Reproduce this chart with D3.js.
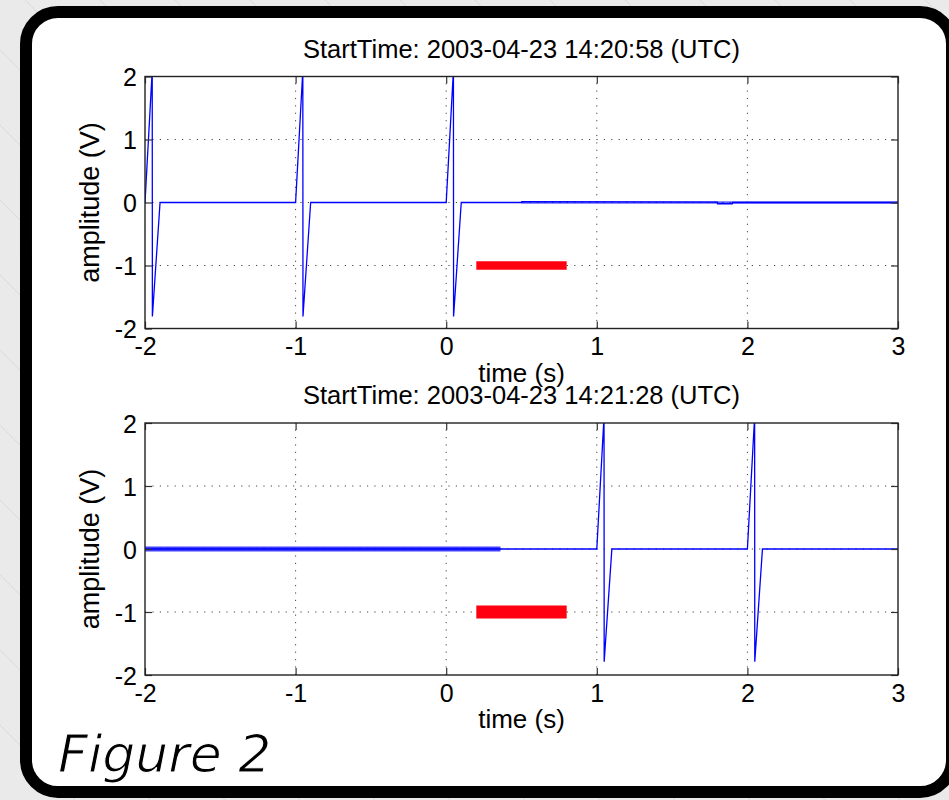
<!DOCTYPE html>
<html>
<head>
<meta charset="utf-8">
<script src="https://cdn.jsdelivr.net/npm/d3@7"></script>
<style>
  body { margin: 0; background: #eaeaea; }
  svg { display: block; }
  text { font-family: "Liberation Sans", Arial, Helvetica, sans-serif; fill: #000; }
</style>
</head>
<body>
<div id="chart"></div>
<script>
// --- data ---
const xTicks = [-2, -1, 0, 1, 2, 3];
const yTicks = [-2, -1, 0, 1, 2];
const xLabel = 'time (s)';
const yLabel = 'amplitude (V)';
const titles = [
    'StartTime: 2003-04-23 14:20:58 (UTC)',
    'StartTime: 2003-04-23 14:21:28 (UTC)'
];

// [time, amplitude] samples of the blue trace (peaks clip at the axes)
const topTrace = [
    [-2.000, 0], [-1.952, 2.10], [-1.951, -1.81], [-1.900, 0],
    [-1.000, 0], [-0.952, 2.10], [-0.951, -1.81], [-0.900, 0],
    [0.000, 0], [0.048, 2.10], [0.049, -1.81], [0.100, 0],
    [0.500, 0], [0.502, 0.015], [1.800, 0.005], [1.802, -0.02],
    [1.900, -0.02], [1.902, 0], [3.000, 0]
];
const bottomTrace = [
    [-2.000, 0], [0.360, 0],
    [1.000, 0], [1.048, 2.10], [1.049, -1.79], [1.100, 0],
    [2.000, 0], [2.048, 2.10], [2.049, -1.79], [2.100, 0],
    [3.000, 0]
];

// envelope of the fast jitter on the trace: [time, low, high]
const topNoise = [[0.50, -0.018, 0.018], [3.00, -0.018, 0.018]];
const bottomNoise = [[-2.00, -0.04, 0.04], [0.36, -0.04, 0.04]];

// red marker bars: [t start, t end, amplitude]
const topMarker = [0.2, 0.8, -1];
const bottomMarker = [0.2, 0.8, -1];

// --- layout ---
const W = 949, H = 800;
const plotLeft = 145, plotRight = 898;

const svg = d3.select('#chart').append('svg')
    .attr('width', W)
    .attr('height', H);

// background with faint diagonal hatching
svg.append('rect').attr('width', W).attr('height', H).attr('fill', '#eaeaea');
const hatch = svg.append('g').attr('stroke', '#dadada').attr('stroke-width', 1);
for (let k = -800; k < W; k += 75) {
    hatch.append('line')
        .attr('x1', k).attr('y1', 0)
        .attr('x2', k + H).attr('y2', H);
}

// rounded black frame
svg.append('rect')
    .attr('x', 26).attr('y', 12)
    .attr('width', 926).attr('height', 780)
    .attr('rx', 32).attr('ry', 32)
    .attr('fill', '#fff')
    .attr('stroke', '#000')
    .attr('stroke-width', 12);

const panels = [
    { title: titles[0], trace: topTrace, noise: topNoise, marker: topMarker,
      top: 76.5, bottom: 328.5, markerThick: 8.5, noiseOpacity: 0.6 },
    { title: titles[1], trace: bottomTrace, noise: bottomNoise, marker: bottomMarker,
      top: 423, bottom: 675, markerThick: 13, noiseOpacity: 0.75 }
];

panels.forEach((p, i) => drawPanel(p, i));

function drawPanel(p, i) {
    const x = d3.scaleLinear().domain([-2, 3]).range([plotLeft, plotRight]);
    const y = d3.scaleLinear().domain([-2, 2]).range([p.bottom, p.top]);
    const g = svg.append('g');

    g.append('clipPath').attr('id', `clip${i}`)
        .append('rect')
        .attr('x', plotLeft).attr('y', p.top)
        .attr('width', plotRight - plotLeft).attr('height', p.bottom - p.top);

    // dotted grid
    const grid = g.append('g')
        .attr('stroke', '#444')
        .attr('stroke-width', 1)
        .attr('stroke-dasharray', '1.2,6.2');
    grid.selectAll('.gx').data(xTicks.slice(1, -1)).join('line')
        .attr('x1', d => x(d)).attr('x2', d => x(d))
        .attr('y1', p.bottom).attr('y2', p.top);
    grid.selectAll('.gy').data(yTicks.slice(1, -1)).join('line')
        .attr('x1', plotLeft).attr('x2', plotRight)
        .attr('y1', d => y(d)).attr('y2', d => y(d));

    // red marker bar
    g.append('line')
        .attr('x1', x(p.marker[0])).attr('x2', x(p.marker[1]))
        .attr('y1', y(p.marker[2])).attr('y2', y(p.marker[2]))
        .attr('stroke', '#ff0010')
        .attr('stroke-width', p.markerThick);

    const data = g.append('g').attr('clip-path', `url(#clip${i})`);

    // jitter envelope
    data.append('path')
        .datum(p.noise)
        .attr('fill', '#0000ff')
        .attr('fill-opacity', p.noiseOpacity)
        .attr('d', d3.area().x(d => x(d[0])).y0(d => y(d[1])).y1(d => y(d[2])));

    // trace
    data.append('path')
        .datum(p.trace)
        .attr('fill', 'none')
        .attr('stroke', '#0000ff')
        .attr('stroke-width', 1.3)
        .attr('stroke-linejoin', 'miter')
        .attr('d', d3.line().x(d => x(d[0])).y(d => y(d[1])));

    // axes with inward ticks (matlab style)
    const tickLen = 7;
    const ax = g.append('g').attr('transform', `translate(0,${p.bottom})`)
        .call(d3.axisBottom(x).tickValues(xTicks).tickSizeInner(-tickLen).tickSizeOuter(0)
            .tickPadding(9).tickFormat(d3.format('d')));
    const ay = g.append('g').attr('transform', `translate(${plotLeft},0)`)
        .call(d3.axisLeft(y).tickValues(yTicks).tickSizeInner(-tickLen).tickSizeOuter(0)
            .tickPadding(8).tickFormat(d3.format('d')));
    const at = g.append('g').attr('transform', `translate(0,${p.top})`)
        .call(d3.axisTop(x).tickValues(xTicks).tickSizeInner(-tickLen).tickSizeOuter(0)
            .tickFormat(''));
    const ar = g.append('g').attr('transform', `translate(${plotRight},0)`)
        .call(d3.axisRight(y).tickValues(yTicks).tickSizeInner(-tickLen).tickSizeOuter(0)
            .tickFormat(''));

    [ax, ay, at, ar].forEach(a => {
        a.select('.domain').remove();
        a.selectAll('line').attr('stroke', '#333').attr('stroke-width', 1.2);
        a.selectAll('text')
            .style('font-family', '"Liberation Sans", Arial, sans-serif')
            .style('font-size', '25px')
            .attr('fill', '#000');
    });
    // plain hyphen for negatives, like the original
    ax.selectAll('text').text(d => String(d));
    ay.selectAll('text').text(d => String(d)).attr('dy', '0.36em');

    // axes box
    g.append('rect')
        .attr('x', plotLeft).attr('y', p.top)
        .attr('width', plotRight - plotLeft).attr('height', p.bottom - p.top)
        .attr('fill', 'none')
        .attr('stroke', '#222')
        .attr('stroke-width', 1.4);

    // title and labels
    g.append('text')
        .attr('x', (plotLeft + plotRight) / 2)
        .attr('y', p.top - 19)
        .attr('text-anchor', 'middle')
        .style('font-size', '25.5px')
        .text(p.title);

    g.append('text')
        .attr('x', (plotLeft + plotRight) / 2)
        .attr('y', p.bottom + 53)
        .attr('text-anchor', 'middle')
        .style('font-size', '26px')
        .text(xLabel);

    g.append('text')
        .attr('transform', `translate(99,${(p.top + p.bottom) / 2}) rotate(-90)`)
        .attr('text-anchor', 'middle')
        .style('font-size', '27px')
        .text(yLabel);
}

// caption; thin white outline makes the strokes lighter, like the slide font
svg.append('text')
    .attr('x', 58).attr('y', 772)
    .style('font-family', '"DejaVu Sans", sans-serif')
    .style('font-style', 'italic')
    .style('font-size', '52px')
    .attr('stroke', '#fff')
    .attr('stroke-width', 1.1)
    .text('Figure 2');
</script>
</body>
</html>
